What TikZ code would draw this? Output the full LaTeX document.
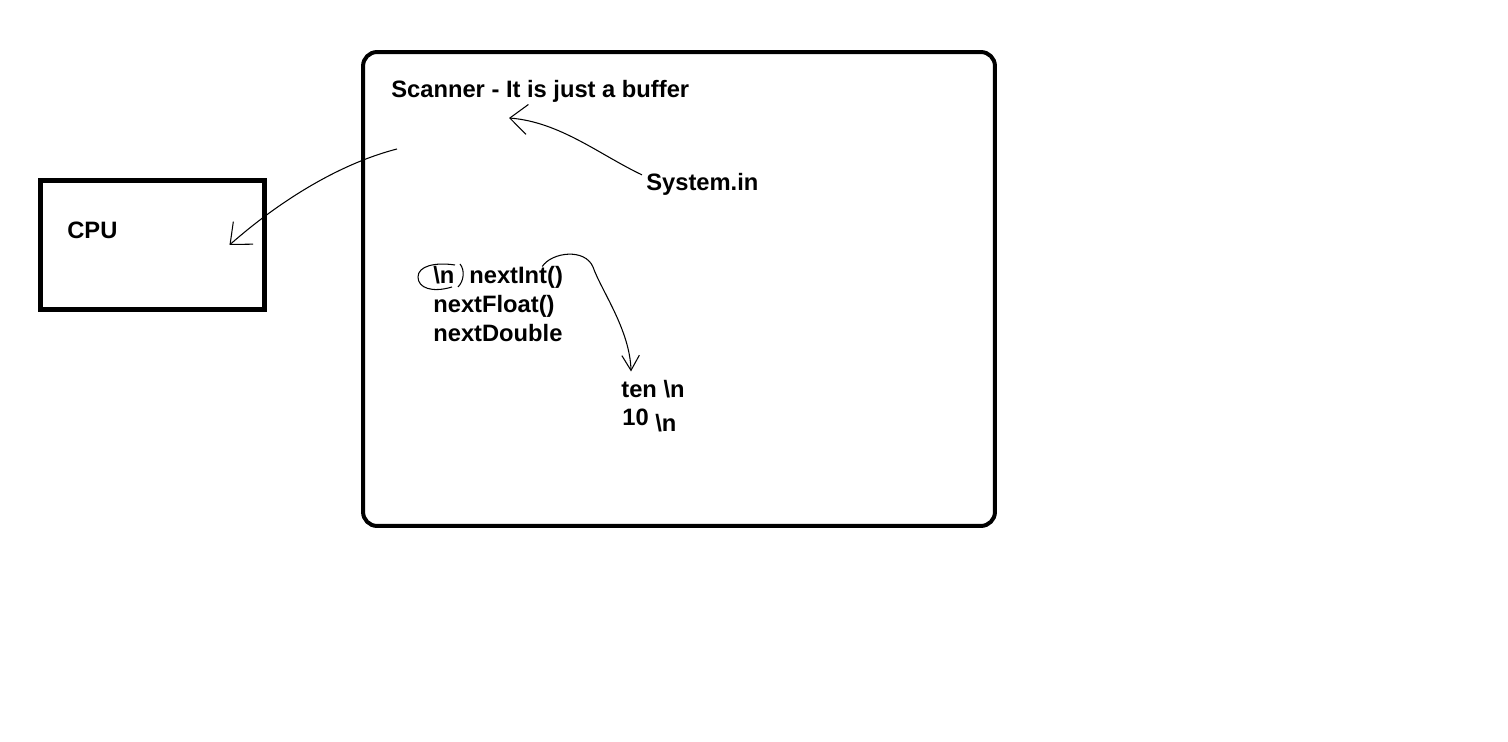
\documentclass[tikz,border=0pt]{standalone}
\usepackage{fontspec}
\setmainfont{Liberation Sans}
\usetikzlibrary{arrows.meta}
\usetikzlibrary{calc}

\begin{document}
\begin{tikzpicture}[x=0.02cm, y=-0.02cm,
  box/.style={draw, rectangle, inner sep=0pt},
  txt/.style={anchor=base west, inner sep=0pt, font=\fontsize{13.5}{16}\selectfont\bfseries},
  pen/.style={line width=0.6pt},
  barb/.style={pen, -{Straight Barb[length=3.5mm, width=6mm]}},
  smallbarb/.style={pen, -{Straight Barb[length=3mm, width=3.5mm]}}]
  \path[use as bounding box, fill=white] (0,0) rectangle (1508,742);
  \node[box, line width=0.08cm, rounded corners=0.28cm, minimum width=12.64cm,
  minimum height=9.48cm] (scanner) at (679,289) {};
  \node[box, line width=0.1cm, minimum width=4.5cm, minimum height=2.6cm] (cpu) at (152.5,245) {};
  \node[txt] (title) at (391,98) {Scanner - It is just a buffer};
  \node[txt] (sysin) at (646,191) {System.in};
  \node[txt] (cpulabel) at (67,239) {CPU};
  \node[txt] (nl) at (433,284) {\textbackslash n};
  \node[txt] (nextint) at (469,284) {nextInt()};
  \node[txt] (nextfloat) at (433,313) {nextFloat()};
  \node[txt] (nextdouble) at (433,342) {nextDouble};
  \node[txt] (ten) at (621,398) {ten \textbackslash n};
  \node[txt] (tenval) at (622,426) {10 \raisebox{-1.2mm}{\textbackslash n}};
  \coordinate (bufout) at (397,149);
  \coordinate (bufin) at (509,118);
\draw[barb] (bufout) .. controls (335,165) and (275,205) .. ($(cpu.east)+(-38,0)$);
\draw[barb] ($(sysin.west)+(-4,-10)$) .. controls (600,155) and (560,122) .. (bufin);
\draw[smallbarb] ($(nextint.north east)+(-21,0)$) .. controls (552,252) and (585,248) .. (593,267)
  .. controls (601,290) and (630,330) .. ($(ten.north west)+(10,-9)$);
\draw[pen] (455,265) .. controls (435,262) and (418,266) .. (418,277)
  .. controls (418,288) and (432,293) .. (452,287);
\draw[pen] (460,264) .. controls (465,270) and (464,281) .. (458,287);
\end{tikzpicture}
\end{document}
